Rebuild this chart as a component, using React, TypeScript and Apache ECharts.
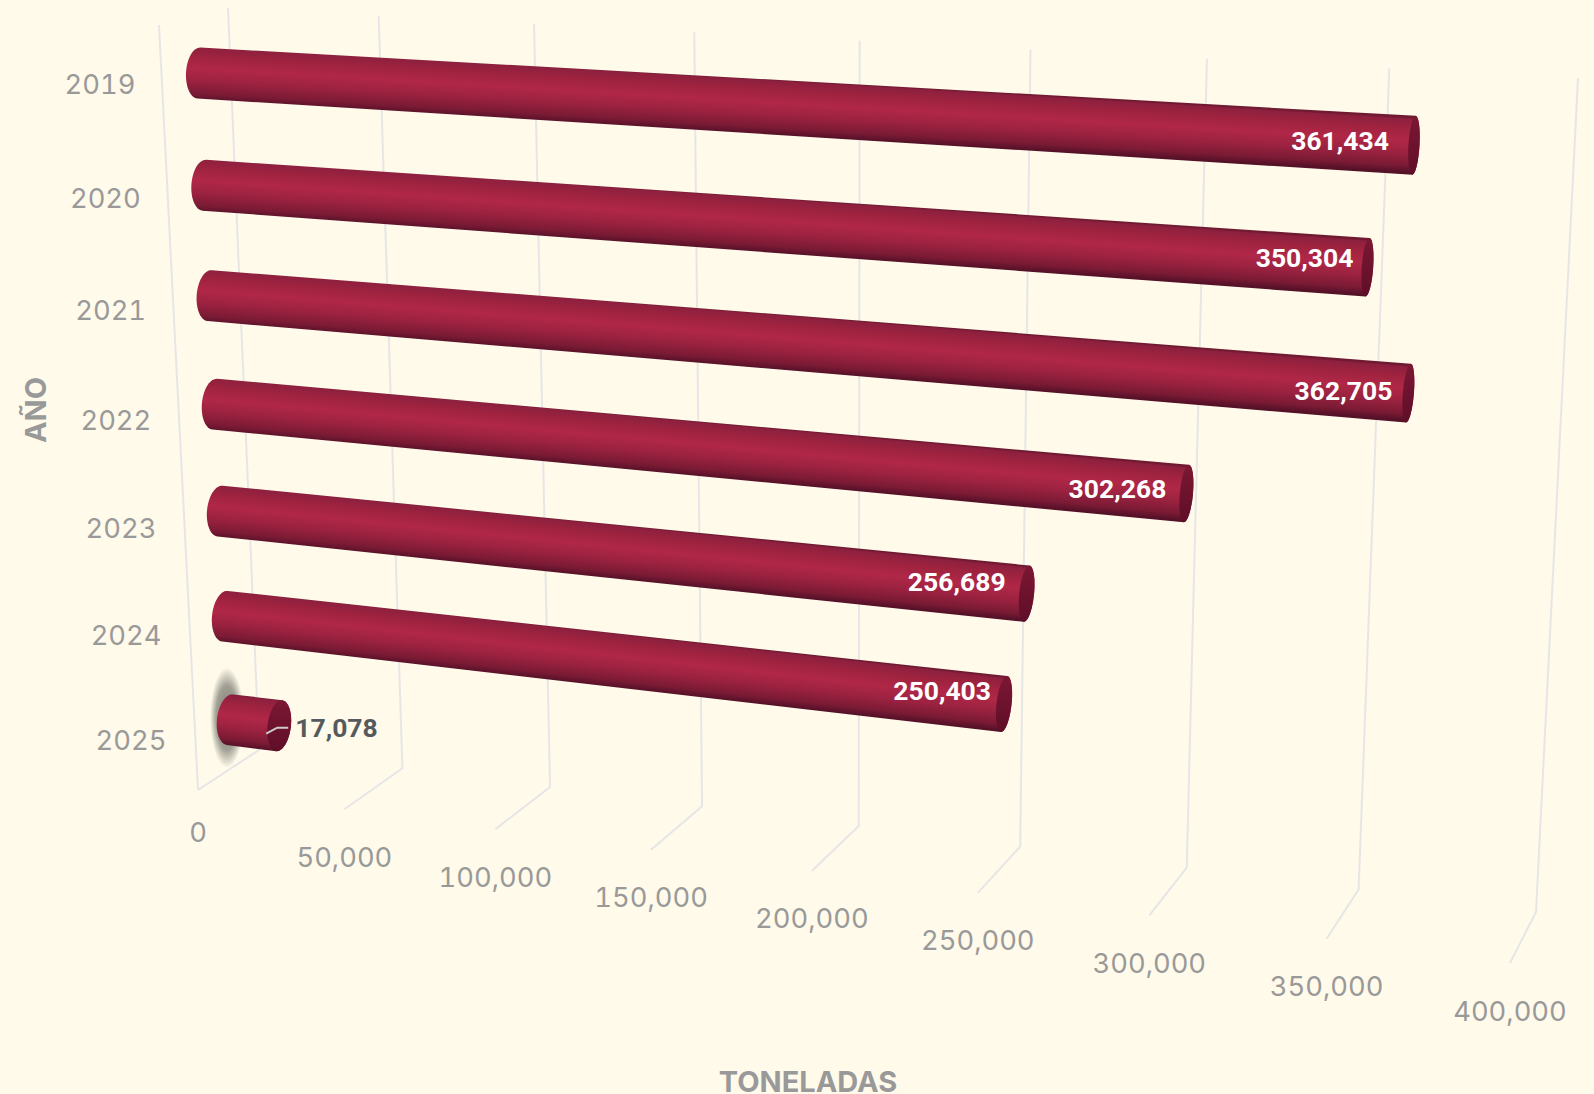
import React, { useEffect, useRef } from "react";
import * as echarts from "echarts";

const years = ["2019", "2020", "2021", "2022", "2023", "2024", "2025"];
const tons = [361434, 350304, 362705, 302268, 256689, 250403, 17078];
const axisTicks = [0, 50000, 100000, 150000, 200000, 250000, 300000, 350000, 400000];
const axisMax = 400000;
const xTitle = "TONELADAS";
const yTitle = "AÑO";

type P = [number, number];
// Perspective of the three chart planes: corners at (u,v) = (0,0), (1,0), (1,1), (0,1)
const barPlane: P[] = [[199, 73], [1561, 154], [1523, 878.5], [230, 719.7]];
const wallPlane: P[] = [[228, 8], [1578, 78], [1536, 912], [259, 750]];
const floorPlane: P[] = [[259, 750], [1536, 912], [1510, 963], [198, 790]];
// label nudges per row
const labelDX = [-25, -14, -16, -20, -21, -13, 0];
const labelDY = [-4.5, -10, -3, -5, -12, -14, 0];

function homography(q: P[]) {
  const [[x0, y0], [x1, y1], [x2, y2], [x3, y3]] = q;
  const dx1 = x1 - x2, dx2 = x3 - x2, sx = x0 - x1 + x2 - x3;
  const dy1 = y1 - y2, dy2 = y3 - y2, sy = y0 - y1 + y2 - y3;
  const den = dx1 * dy2 - dx2 * dy1;
  const g = (sx * dy2 - dx2 * sy) / den;
  const h = (dx1 * sy - sx * dy1) / den;
  const a = x1 - x0 + g * x1, b = x3 - x0 + h * x3, c = x0;
  const d = y1 - y0 + g * y1, e = y3 - y0 + h * y3, f = y0;
  return (u: number, v: number): P => {
    const w = g * u + h * v + 1;
    return [(a * u + b * v + c) / w, (d * u + e * v + f) / w];
  };
}
const barP = homography(barPlane);
const wallP = homography(wallPlane);
const floorP = homography(floorPlane);

// Turn a data value into plane coordinates through the chart's own scales
function uv(api: any, params: any, value: number, cat: number): [number, number] {
  const c = api.coord([value, cat]);
  const s = params.coordSys;
  return [(c[0] - s.x) / s.width, (c[1] - s.y) / s.height];
}

const bodyStops = [
  { offset: 0, color: "#701a32" },
  { offset: 0.03, color: "#8d203e" },
  { offset: 0.2, color: "#9f233f" },
  { offset: 0.42, color: "#b12747" },
  { offset: 0.65, color: "#9b2240" },
  { offset: 0.88, color: "#7a1a34" },
  { offset: 1, color: "#551128" },
];
const capStops = [
  { offset: 0, color: "#7c1733" },
  { offset: 1, color: "#5f0e28" },
];

const axisFont = { fontFamily: "Inter", fontSize: 27.3, fill: "#999999" };
const titleFont = { fontFamily: "Inter", fontWeight: 700, fontSize: 29, fill: "#999999" };
const labelFont = { fontFamily: "Roboto", fontWeight: 700, fontSize: 26.5 };
const gridLine = { stroke: "#e6e6e6", lineWidth: 2, fill: "none" };

function renderBar(params: any, api: any) {
  const value = api.value(0);
  const cat = api.value(1);
  const [u0, v0] = uv(api, params, 0, cat);
  const [u1, v1] = uv(api, params, value, cat);
  const a = barP(u0, v0);
  const b = barP(u1, v1);
  const len = Math.hypot(b[0] - a[0], b[1] - a[1]);
  const d: P = [(b[0] - a[0]) / len, (b[1] - a[1]) / len];
  const n: P = [-d[1], d[0]];
  const r0 = 25.5;
  const r1 = 25.5 + 4 * u1 * 1.1;
  const rx0 = 13;
  const rx1 = 12 - 6.5 * u1 * 1.1;
  const arc = (c: P, rx: number, r: number, t0: number, t1: number) => {
    const pts: P[] = [];
    for (let i = 0; i <= 24; i++) {
      const t = t0 + ((t1 - t0) * i) / 24;
      pts.push([
        c[0] + d[0] * rx * Math.cos(t) + n[0] * r * Math.sin(t),
        c[1] + d[1] * rx * Math.cos(t) + n[1] * r * Math.sin(t),
      ]);
    }
    return pts;
  };
  const body = [
    ...arc(a, rx0, r0, (3 * Math.PI) / 2, Math.PI / 2),
    ...arc(b, rx1, r1, Math.PI / 2, -Math.PI / 2),
  ];
  const cap = arc(b, rx1, r1, 0, Math.PI * 2);
  const m: P = [(a[0] + b[0]) / 2, (a[1] + b[1]) / 2];
  const r = (r0 + r1) / 2;
  const bodyFill = new echarts.graphic.LinearGradient(
    m[0] - n[0] * r, m[1] - n[1] * r, m[0] + n[0] * r, m[1] + n[1] * r, bodyStops, true
  );
  const capFill = new echarts.graphic.LinearGradient(
    b[0], b[1] - r1, b[0], b[1] + r1, capStops, true
  );
  const idx = params.dataIndex;
  const inside = u1 > 0.2;
  const text = tons[idx].toLocaleString("en-US");
  const children: any[] = [];
  if (!inside) {
    children.push({
      type: "ellipse",
      shape: { cx: a[0] - 3, cy: a[1] - 2, rx: 17, ry: 50 },
      style: {
        fill: new echarts.graphic.RadialGradient(0.5, 0.5, 0.5, [
          { offset: 0, color: "rgba(100,100,92,0.85)" },
          { offset: 0.65, color: "rgba(100,100,92,0.6)" },
          { offset: 1, color: "rgba(100,100,92,0)" },
        ]),
      },
    });
  }
  children.push(
    { type: "polygon", shape: { points: body }, style: { fill: bodyFill } },
    { type: "polygon", shape: { points: cap }, style: { fill: capFill } }
  );
  if (inside) {
    children.push({
      type: "text",
      style: {
        text,
        x: b[0] + labelDX[idx],
        y: b[1] + labelDY[idx],
        ...labelFont,
        fill: "#ffffff",
        align: "right",
        verticalAlign: "middle",
      },
    });
  } else {
    children.push(
      {
        type: "polyline",
        shape: { points: [[b[0] - 13, b[1] + 8], [b[0] - 2, b[1] + 2], [b[0] + 9, b[1] + 2]] },
        style: { stroke: "#cccccc", lineWidth: 2, fill: "none" },
      },
      {
        type: "text",
        style: {
          text,
          x: b[0] + 16,
          y: b[1] + 2,
          ...labelFont,
          fill: "#555a5c",
          align: "left",
          verticalAlign: "middle",
        },
      }
    );
  }
  return { type: "group", children };
}

function renderTick(params: any, api: any) {
  const value = api.value(0);
  const [u] = uv(api, params, value, 0);
  const top = wallP(u, 0);
  const mid = wallP(u, 1);
  const front = floorP(u, 1);
  const children: any[] = [
    { type: "polyline", shape: { points: [top, mid, front] }, style: gridLine },
    {
      type: "text",
      style: {
        text: value.toLocaleString("en-US"),
        x: front[0],
        y: front[1] + (value === 0 ? 42 : 48),
        ...axisFont,
        align: "center",
        verticalAlign: "middle",
      },
    },
  ];
  if (value === 0) {
    const corner: P = [wallP(u, 0)[0] - 69, wallP(u, 0)[1] + 17];
    children.push({ type: "line", shape: { x1: corner[0], y1: corner[1], x2: front[0], y2: front[1] }, style: gridLine });
  }
  return { type: "group", children };
}

function renderYear(params: any, api: any) {
  const cat = api.value(1);
  const [u, v] = uv(api, params, 0, cat);
  const p = barP(u, v);
  return {
    type: "text",
    style: {
      text: years[params.dataIndex],
      x: p[0] - 99,
      y: p[1] + 11.5 + cat * 1.5,
      ...axisFont,
      align: "center",
      verticalAlign: "middle",
    },
  };
}

export default function App() {
  const ref = useRef<HTMLDivElement>(null);
  useEffect(() => {
    const chart = echarts.init(ref.current!, undefined, { renderer: "svg" });
    chart.setOption({
      animation: false,
      backgroundColor: "#fffaea",
      grid: { left: 0, right: 0, top: 0, bottom: 0 },
      xAxis: { type: "value", min: 0, max: axisMax, interval: 50000, show: false },
      yAxis: { type: "category", data: years, inverse: true, boundaryGap: false, show: false },
      graphic: [
        {
          type: "text",
          x: 808,
          y: 1081,
          style: { text: xTitle, ...titleFont, lineHeight: 24, align: "center", verticalAlign: "middle" },
        },
        {
          type: "text",
          x: 35.5,
          y: 410,
          rotation: Math.PI / 2,
          style: { text: yTitle, ...titleFont, align: "center", verticalAlign: "middle" },
        },
      ],
      series: [
        { type: "custom", coordinateSystem: "cartesian2d", silent: true, z: 1, encode: { x: 0, y: 1 }, renderItem: renderTick, data: axisTicks.map((t) => [t, 0]) },
        { type: "custom", coordinateSystem: "cartesian2d", silent: true, z: 1, encode: { x: 0, y: 1 }, renderItem: renderYear, data: years.map((_, i) => [0, i]) },
        { type: "custom", coordinateSystem: "cartesian2d", silent: true, z: 2, encode: { x: 0, y: 1 }, renderItem: renderBar, data: tons.map((t, i) => [t, i]) },
      ],
    });
    return () => chart.dispose();
  }, []);
  return (
    <>
      <style>{"svg text { font-variant-numeric: tabular-nums; }"}</style>
      <div ref={ref} style={{ position: "fixed", left: 0, top: 0, width: 1594, height: 1094 }} />
    </>
  );
}
